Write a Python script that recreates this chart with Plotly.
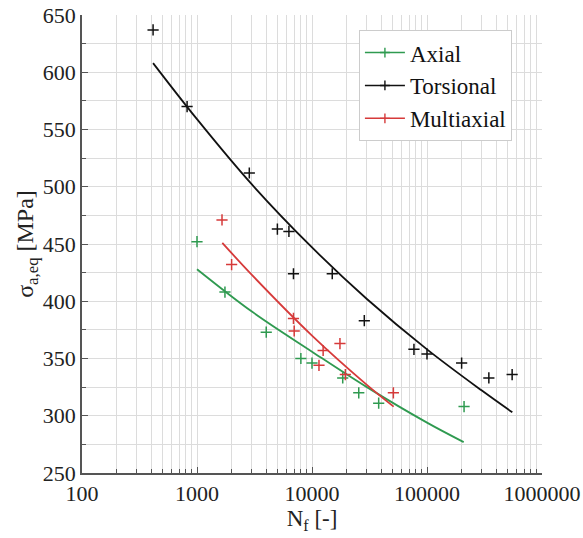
import plotly.graph_objects as go

# ---- data ----
axial_N = [1000, 1750, 4000, 8000, 10000, 18500, 25500, 38000, 210000]
axial_S = [452, 408, 373, 350, 346, 333, 320, 311, 308]

tors_N = [415, 820, 2850, 5000, 6300, 6900, 15000, 28500, 77000, 100000, 200000, 345000, 550000]
tors_S = [637, 570, 512, 463, 461, 424, 424, 383, 358, 354, 346, 333, 336]

multi_N = [1650, 2000, 6900, 7000, 11500, 12500, 17500, 19500, 51000]
multi_S = [471, 432, 385, 374, 344, 357, 363, 336, 320]

# fitted curves
axial_fit_N = [1000, 3000, 10000, 30000, 100000, 208500]
axial_fit_S = [428, 391, 356, 325, 294, 277]

tors_fit_N = [415, 1000, 3000, 10000, 30000, 100000, 300000, 552000]
tors_fit_S = [608, 559, 502, 447, 402, 358, 322, 303]

multi_fit_N = [1660, 3000, 10000, 30000, 51300]
multi_fit_S = [451, 423, 370, 327, 308]

x_tick_vals = [100, 1000, 10000, 100000, 1000000]
x_tick_text = ["100", "1000", "10000", "100000", "1000000"]
y_tick_vals = [250, 300, 350, 400, 450, 500, 550, 600, 650]

series = [
    ("Axial", "#2f9a50", axial_N, axial_S, axial_fit_N, axial_fit_S),
    ("Torsional", "#111111", tors_N, tors_S, tors_fit_N, tors_fit_S),
    ("Multiaxial", "#d63a3a", multi_N, multi_S, multi_fit_N, multi_fit_S),
]

FONT = "'Liberation Serif', 'Times New Roman', Times, serif"
fig = go.Figure()
for name, col, xn, ys, fx, fy in series:
    fig.add_trace(go.Scatter(
        x=fx, y=fy, mode="lines", line=dict(color=col, width=1.8, shape="spline"),
        showlegend=False, hoverinfo="skip"))
    fig.add_trace(go.Scatter(
        x=xn, y=ys, mode="markers", showlegend=False,
        marker=dict(symbol="cross-thin", size=8, line=dict(color=col, width=1.5))))
for name, col, *_ in series:
    fig.add_trace(go.Scatter(
        x=[None], y=[None], mode="lines+markers", name=name,
        line=dict(color=col, width=1.5),
        marker=dict(symbol="cross-thin", size=7, line=dict(color=col, width=1.4))))

fig.update_layout(
    width=583, height=538,
    margin=dict(l=82, r=41, t=15, b=65),
    paper_bgcolor="white", plot_bgcolor="white",
    font=dict(family=FONT, size=22, color="#222"),
    legend=dict(x=0.602, y=0.967, xanchor="left", yanchor="top",
                bgcolor="white", bordercolor="#cccccc", borderwidth=1,
                font=dict(family=FONT, size=23, color="#111"),
                tracegroupgap=0, itemwidth=40),
    xaxis=dict(type="log", range=[2, 6], tickvals=x_tick_vals, ticktext=x_tick_text,
               automargin=False, ticklabeloverflow="allow",
               showgrid=True, gridcolor="#dcdcdc", gridwidth=1,
               showline=True, linecolor="#555", linewidth=1.5,
               ticks="inside", ticklen=6, tickcolor="#555",
               minor=dict(dtick="D1", showgrid=True, gridcolor="#dcdcdc",
                          ticks="inside", ticklen=4, tickcolor="#555"),
               title=dict(text="N<sub>f</sub> [-]", font=dict(family=FONT, size=23), standoff=2),
               tickfont=dict(family=FONT, size=22, color="#222"),
               zeroline=False),
    yaxis=dict(range=[250, 650], tickvals=y_tick_vals,
               automargin=False, ticklabeloverflow="allow",
               showgrid=True, gridcolor="#dcdcdc", gridwidth=1,
               showline=True, linecolor="#555", linewidth=1.5,
               ticks="inside", ticklen=6, tickcolor="#555",
               minor=dict(dtick=25, showgrid=True, gridcolor="#dcdcdc",
                          ticks="inside", ticklen=4, tickcolor="#555"),
               title=dict(text="σ<sub>a,eq</sub> [MPa]", font=dict(family=FONT, size=24), standoff=2),
               tickfont=dict(family=FONT, size=22, color="#222"),
               zeroline=False),
)

fig.write_html("out.html", config={"displayModeBar": False},
               post_script="document.body.style.margin='0';")
